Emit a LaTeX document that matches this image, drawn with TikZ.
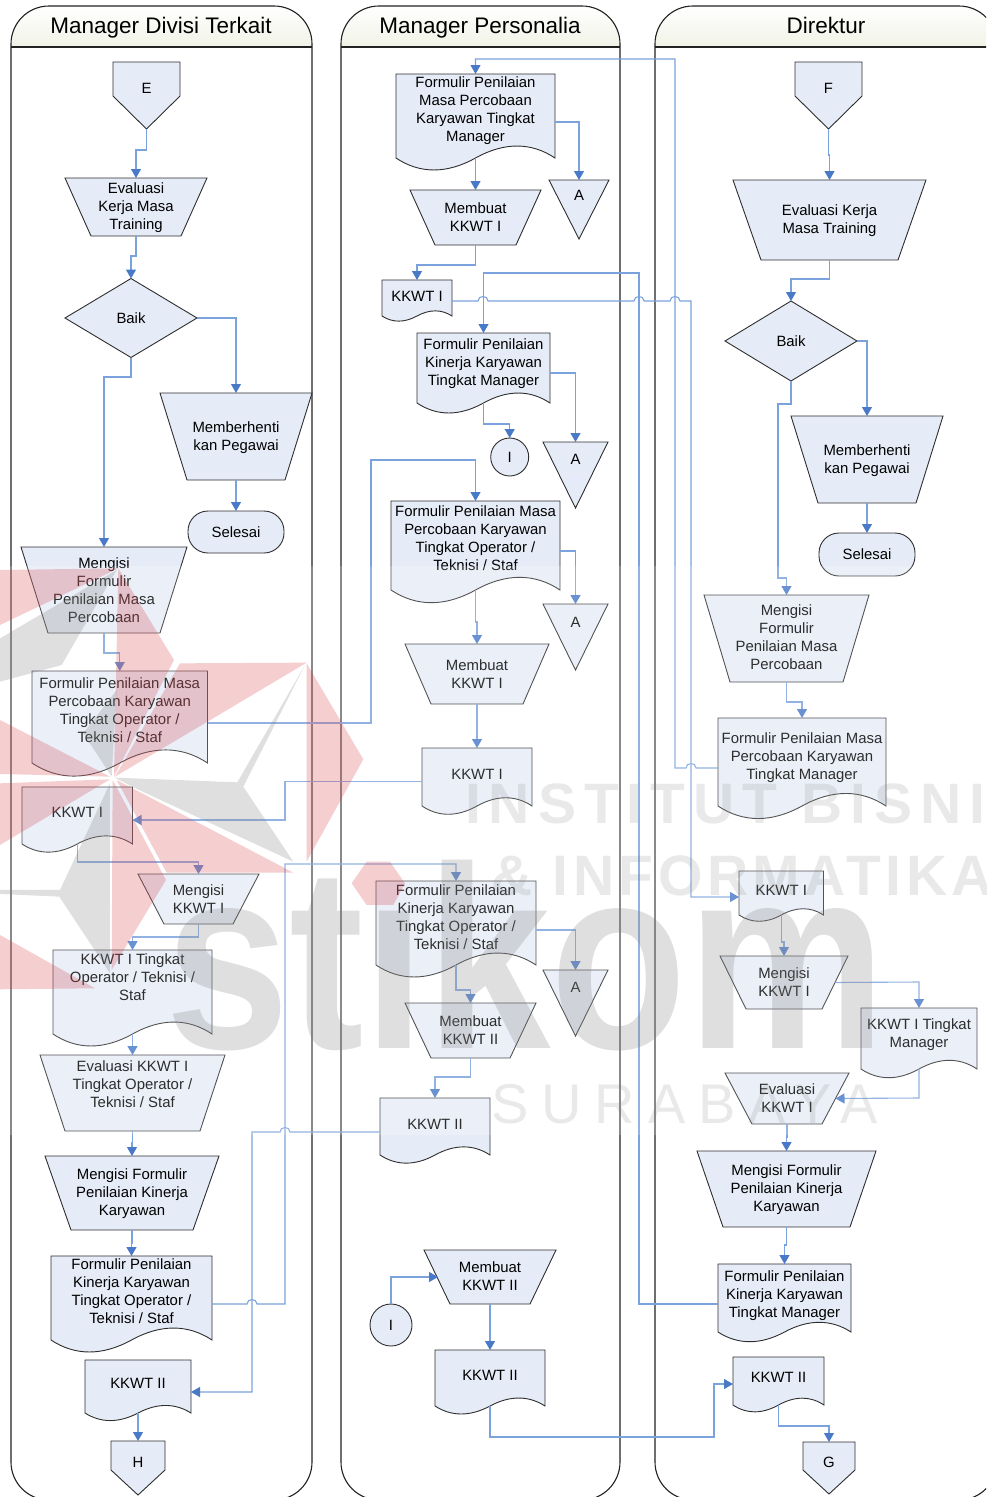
\documentclass[tikz,border=0pt]{standalone}
\usepackage{fontspec}
\setmainfont{Liberation Sans}
\usetikzlibrary{arrows.meta,shapes.geometric}
\definecolor{laneline}{HTML}{222222}
\definecolor{laneheader}{HTML}{F1F2E6}
\definecolor{shapeline}{HTML}{2E2E2E}
\definecolor{shapefill}{HTML}{E6ECF7}
\definecolor{flowblue}{HTML}{7AA2DC}
\definecolor{tipblue}{HTML}{4A7AC7}
\definecolor{wmred}{HTML}{D63C46}
\definecolor{wmgray}{HTML}{808080}
\tikzset{
  lanebox/.style={draw=laneline, line width=1.1pt},
  shapebox/.style={draw=shapeline, fill=shapefill, line width=0.9pt},
  boxref/.style={inner sep=0pt, outer sep=0pt, rectangle},
  lbl/.style={inner sep=0pt, align=center, yshift=-2.7pt, font=\fontsize{14.9}{18}\selectfont,
    execute at begin node=\strut, execute at end node=\strut},
  titlelbl/.style={inner sep=0pt, anchor=base, font=\fontsize{22.5}{26}\selectfont},
  flow/.style={draw=flowblue, line width=1.1pt, -{Triangle[length=9pt,width=10pt,color=tipblue]}},
  wmpoly/.style={fill=wmred, opacity=0.25},
  wmpolygray/.style={fill=wmgray, opacity=0.25},
}
% name, left, right, top, wave line, text y, text
\newcommand{\docbox}[7]{
  \pgfmathsetmacro{\bw}{#3-#2}
  \pgfmathsetmacro{\bh}{#5-#4}
  \pgfmathsetmacro{\wv}{0.19*\bh}
  \draw[shapebox] (#2,#4) -- (#3,#4) -- (#3,#5)
    .. controls (#3-0.15*\bw,#5-\wv) and (#3-0.32*\bw,#5-\wv) .. (#2+0.5*\bw,#5)
    .. controls (#2+0.32*\bw,#5+\wv) and (#2+0.15*\bw,#5+\wv) .. (#2,#5) -- cycle;
  \node[boxref, minimum width=\bw pt, minimum height=\bh pt] (#1) at (#2+0.5*\bw,#4+0.5*\bh) {};
  \node[lbl] (#1-text) at (#2+0.5*\bw,#6) {#7};
}
% name, left, right, top, bottom, inset, text y, text
\newcommand{\manual}[8]{
  \pgfmathsetmacro{\bw}{#3-#2}
  \pgfmathsetmacro{\bh}{#5-#4}
  \draw[shapebox] (#2,#4) -- (#3,#4) -- (#3-#6,#5) -- (#2+#6,#5) -- cycle;
  \node[boxref, minimum width=\bw pt, minimum height=\bh pt] (#1) at (#2+0.5*\bw,#4+0.5*\bh) {};
  \node[lbl] (#1-text) at (#2+0.5*\bw,#7) {#8};
}
% name, left, right, top, shoulder, tip, text y, text
\newcommand{\offpage}[8]{
  \pgfmathsetmacro{\bw}{#3-#2}
  \pgfmathsetmacro{\bh}{#6-#4}
  \draw[shapebox] (#2,#4) -- (#3,#4) -- (#3,#5) -- (#2+0.5*\bw,#6) -- (#2,#5) -- cycle;
  \node[boxref, minimum width=\bw pt, minimum height=\bh pt] (#1) at (#2+0.5*\bw,#4+0.5*\bh) {};
  \node[lbl] (#1-text) at (#2+0.5*\bw,#7) {#8};
}
% name, left, right, top, tip, text y
\newcommand{\storetri}[6]{
  \pgfmathsetmacro{\bw}{#3-#2}
  \pgfmathsetmacro{\bh}{#5-#4}
  \draw[shapebox] (#2,#4) -- (#3,#4) -- (#2+0.5*\bw,#5) -- cycle;
  \node[boxref, minimum width=\bw pt, minimum height=\bh pt] (#1) at (#2+0.5*\bw,#4+0.5*\bh) {};
  \node[lbl] (#1-text) at (#2+0.5*\bw,#6) {A};
}
% left, right
\newcommand{\lanehead}[2]{
  \shade[top color=white, bottom color=laneheader] (#1,47) [rounded corners=36pt] -- (#1,6) -- (#2,6) [sharp corners] -- (#2,47) -- cycle;
  \draw[lanebox, rounded corners=38pt] (#1,6) rectangle (#2,1500);
  \draw[lanebox] (#1,47) -- (#2,47);
}
\newcommand{\hop}[3]{-- (#1,#3) .. controls (#1,#3-6) and (#2,#3-6) .. (#2,#3)}
\begin{document}
\begin{tikzpicture}[x=1pt, y=-1pt]
  \useasboundingbox (0,0) rectangle (986,1497);
  \clip (0,0) rectangle (986,1497);
  \lanehead{11}{312}
  \lanehead{341}{620}
  \lanehead{655}{997}
  \node[titlelbl] (titleA) at (161,33.5) {Manager Divisi Terkait};
  \node[titlelbl] (titleB) at (480,33.5) {Manager Personalia};
  \node[titlelbl] (titleC) at (826,33.5) {Direktur};

  % Manager Divisi Terkait
  \offpage{offE}{113}{180}{62}{96}{129}{87}{E}
  \manual{evalA}{65}{207}{178}{236}{26}{206}{Evaluasi\\Kerja Masa\\Training}
  \node[shapebox, boxref, shape=diamond, aspect=1.67, minimum width=132pt, minimum height=79pt, font=\fontsize{14.9}{18}\selectfont] (baikA) at (131,318) {Baik};
  \manual{hentiA}{160}{312}{393}{480}{27}{436}{Memberhenti\\kan Pegawai}
  \node[shapebox, boxref, rounded corners=20pt, minimum width=96pt, minimum height=42pt, font=\fontsize{14.9}{18}\selectfont] (selesaiA) at (236,532) {Selesai};
  \manual{isiFormA}{21}{187}{547}{633}{27}{590}{Mengisi\\Formulir\\Penilaian Masa\\Percobaan}
  \docbox{formOpA}{32}{207.5}{671}{763}{710}{Formulir Penilaian Masa\\Percobaan Karyawan\\Tingkat Operator /\\Teknisi / Staf}
  \docbox{kkwtA}{22}{132.5}{787}{844}{811}{KKWT I}
  \manual{isiKkwtA}{138}{259}{874}{924}{26}{899}{Mengisi\\KKWT I}
  \docbox{kkwtOpA}{53}{212}{950}{1034}{977}{KKWT I Tingkat\\Operator / Teknisi /\\Staf}
  \manual{evalKkwtA}{40}{225}{1055}{1131}{25}{1084}{Evaluasi KKWT I\\Tingkat Operator /\\Teknisi / Staf}
  \manual{isiKinerjaA}{45}{219}{1156}{1230}{26}{1192}{Mengisi Formulir\\Penilaian Kinerja\\Karyawan}
  \docbox{kinerjaOpA}{51}{212}{1256}{1340}{1291}{Formulir Penilaian\\Kinerja Karyawan\\Tingkat Operator /\\Teknisi / Staf}
  \docbox{kkwtTwoA}{85}{191}{1360}{1413}{1382}{KKWT II}
  \offpage{offH}{111}{165}{1441}{1470}{1495}{1461}{H}

  % Manager Personalia
  \docbox{formManB}{396}{555}{74}{158}{109}{Formulir Penilaian\\Masa Percobaan\\Karyawan Tingkat\\Manager}
  \storetri{triA}{549}{609}{180}{239}{194}
  \manual{buatB}{410}{541}{190}{245}{25}{217}{Membuat\\KKWT I}
  \docbox{kkwtB}{382}{452}{280}{316}{295}{KKWT I}
  \docbox{kinerjaManB}{417}{550}{333}{403}{362}{Formulir Penilaian\\Kinerja Karyawan\\Tingkat Manager}
  \storetri{triB}{543}{608}{442}{508}{458}
  \node[shapebox, boxref, shape=circle, minimum size=38pt, font=\fontsize{14.9}{18}\selectfont] (connI) at (509.7,457) {I};
  \docbox{formOpB}{391}{560}{501}{590}{538}{Formulir Penilaian Masa\\Percobaan Karyawan\\Tingkat Operator /\\Teknisi / Staf}
  \storetri{triC}{543}{608}{604}{670}{621}
  \manual{buatTwoB}{405}{549}{644}{704}{26}{674}{Membuat\\KKWT I}
  \docbox{kkwtOpB}{422}{532}{748}{806}{773}{KKWT I}
  \docbox{kinerjaOpB}{376}{536}{881}{965}{917}{Formulir Penilaian\\Kinerja Karyawan\\Tingkat Operator /\\Teknisi / Staf}
  \storetri{triD}{543}{608}{970}{1036}{986}
  \manual{buatIIB}{405}{536}{1003}{1058}{26}{1030}{Membuat\\KKWT II}
  \docbox{kkwtIIB}{380}{490}{1098}{1155}{1123}{KKWT II}
  \node[shapebox, boxref, shape=circle, minimum size=42pt, font=\fontsize{14.9}{18}\selectfont] (connII) at (391,1325) {I};
  \manual{buatIIIB}{424}{556}{1250}{1304}{26}{1276}{Membuat\\KKWT II}
  \docbox{kkwtIIIB}{435}{545}{1350}{1406}{1374}{KKWT II}

  % Direktur
  \offpage{offF}{795}{862}{62}{96}{129}{87}{F}
  \manual{evalC}{733}{926}{180}{260}{28}{219}{Evaluasi Kerja\\Masa Training}
  \node[shapebox, boxref, shape=diamond, aspect=1.67, minimum width=132pt, minimum height=80pt, font=\fontsize{14.9}{18}\selectfont] (baikC) at (791,341) {Baik};
  \manual{hentiC}{791}{943}{416}{503}{27}{459}{Memberhenti\\kan Pegawai}
  \node[shapebox, boxref, rounded corners=20pt, minimum width=96pt, minimum height=43pt, font=\fontsize{14.9}{18}\selectfont] (selesaiC) at (867,554.5) {Selesai};
  \manual{isiFormC}{704}{869}{595}{682}{26}{637}{Mengisi\\Formulir\\Penilaian Masa\\Percobaan}
  \docbox{formManC}{718}{886}{718}{806}{756}{Formulir Penilaian Masa\\Percobaan Karyawan\\Tingkat Manager}
  \docbox{kkwtC}{739}{823.5}{871}{915}{889}{KKWT I}
  \manual{isiKkwtC}{720}{848}{956}{1009}{26}{982}{Mengisi\\KKWT I}
  \docbox{kkwtManC}{861}{977}{1008}{1069}{1033}{KKWT I Tingkat\\Manager}
  \manual{evalKkwtC}{725}{849}{1073}{1124}{27}{1098}{Evaluasi\\KKWT I}
  \manual{isiKinerjaC}{697}{876}{1151}{1227}{26}{1188}{Mengisi Formulir\\Penilaian Kinerja\\Karyawan}
  \docbox{kinerjaManC}{718}{851}{1264}{1332}{1294}{Formulir Penilaian\\Kinerja Karyawan\\Tingkat Manager}
  \docbox{kkwtIIC}{733}{824}{1357}{1405}{1376}{KKWT II}
  \offpage{offG}{803}{855}{1442}{1470}{1494}{1461}{G}

  % flow in first lane
  \draw[flow] (offE.south) -- (146.5,150) -- (136,150) -- (evalA.north);
  \draw[flow] (evalA.south) -- (136,256) -- (131,256) -- (baikA.north);
  \draw[flow] (baikA.east) -- (236,318) -- (hentiA.north);
  \draw[flow] (baikA.south) -- (131,377) -- (104,377) -- (isiFormA.north);
  \draw[flow] (hentiA.south) -- (selesaiA.north);
  \draw[flow] (isiFormA.south) -- (104,653) -- (119.75,653) -- (formOpA.north);
  \draw[flow] (formOpA.east |- 0,723) -- (371,723) -- (371,460) -- (475.5,460) -- (formOpB.north);
  \draw[flow] (kkwtOpB.west |- 0,781.5) -- (285,781.5) -- (285,820) -- (kkwtA.east |- 0,820);
  \draw[flow] (kkwtA.south) -- (77.25,862) -- (198.5,862) -- (isiKkwtA.north);
  \draw[flow] (isiKkwtA.south) -- (198.5,937) -- (132.5,937) -- (kkwtOpA.north);
  \draw[flow] (kkwtOpA.south) -- (evalKkwtA.north);
  \draw[flow] (evalKkwtA.south) -- (132.5,1143) -- (132,1143) -- (isiKinerjaA.north);
  \draw[flow] (isiKinerjaA.south) -- (132,1243) -- (131.5,1243) -- (kinerjaOpA.north);
  \draw[flow] (kinerjaOpA.east |- 0,1304) \hop{247}{257}{1304} -- (285,1304) -- (285,864) -- (456,864) -- (kinerjaOpB.north);
  \draw[flow] (kkwtIIB.west |- 0,1132) \hop{290}{280}{1132} -- (252,1132) -- (252,1392) -- (kkwtTwoA.east |- 0,1392);
  \draw[flow] (kkwtTwoA.south) -- (offH.north);

  % flow in second lane
  \draw[flow] (formManC.west |- 0,768) \hop{696}{686}{768} -- (675,768) -- (675,59) -- (475.5,59) -- (formManB.north);
  \draw[flow] (formManB.east |- 0,122) -- (579,122) -- (triA.north);
  \draw[flow] (formManB.south) -- (buatB.north);
  \draw[flow] (buatB.south) -- (475.5,265) -- (417,265) -- (kkwtB.north);
  \draw[flow] (kkwtB.east |- 0,301) \hop{478}{488}{301} \hop{634}{644}{301} \hop{670}{680}{301} -- (691,301) -- (691,897) -- (kkwtC.west |- 0,897);
  \draw[flow] (kinerjaManC.west |- 0,1304) -- (639,1304) -- (639,273) -- (483.5,273) -- (kinerjaManB.north);
  \draw[flow] (kinerjaManB.east |- 0,373) -- (575.5,373) -- (triB.north);
  \draw[flow] (kinerjaManB.south) -- (483.5,424) -- (509.7,424) -- (connI.north);
  \draw[flow] (formOpB.east |- 0,551) -- (575.5,551) -- (triC.north);
  \draw[flow] (formOpB.south) -- (475.5,622) -- (477,622) -- (buatTwoB.north);
  \draw[flow] (buatTwoB.south) -- (kkwtOpB.north);
  \draw[flow] (kinerjaOpB.east |- 0,930) -- (575.5,930) -- (triD.north);
  \draw[flow] (kinerjaOpB.south) -- (456,990) -- (470.5,990) -- (buatIIB.north);
  \draw[flow] (buatIIB.south) -- (470.5,1077) -- (435,1077) -- (kkwtIIB.north);
  \draw[flow] (connII.north) -- (391,1277) -- ([xshift=14pt]buatIIIB.west);
  \draw[flow] (buatIIIB.south) -- (kkwtIIIB.north);
  \draw[flow] (kkwtIIIB.south) -- (490,1437) -- (714,1437) -- (714,1384) -- (kkwtIIC.west |- 0,1384);

  % flow in third lane
  \draw[flow] (offF.south) -- (828.5,155) -- (829.5,155) -- (evalC.north);
  \draw[flow] (evalC.south) -- (829.5,279) -- (791,279) -- (baikC.north);
  \draw[flow] (baikC.east) -- (867,341) -- (hentiC.north);
  \draw[flow] (baikC.south) -- (791,404) -- (778,404) -- (778,578) -- (786.5,578) -- (isiFormC.north);
  \draw[flow] (hentiC.south) -- (selesaiC.north);
  \draw[flow] (isiFormC.south) -- (786.5,702) -- (802,702) -- (formManC.north);
  \draw[flow] (kkwtC.south) -- (781.25,942) -- (784,942) -- (isiKkwtC.north);
  \draw[flow] ([xshift=-13pt]isiKkwtC.east) -- (919,982) -- (kkwtManC.north);
  \draw[flow] (kkwtManC.south) -- (919,1098) -- ([xshift=-13.5pt]evalKkwtC.east);
  \draw[flow] (evalKkwtC.south) -- (787,1137) -- (786.5,1137) -- (isiKinerjaC.north);
  \draw[flow] (isiKinerjaC.south) -- (786.5,1245) -- (784.5,1245) -- (kinerjaManC.north);
  \draw[flow] (kkwtIIC.south) -- (778.5,1426) -- (829,1426) -- (offG.north);

  % logo on top of everything
  \fill[white, opacity=0.18] (0,566) rectangle (986,1135);
  \begin{scope}[yshift=-550pt, x=0.3333pt, y=-0.3333pt]
    \fill[wmpoly] (355,55) -- (522,330) -- (342,680) -- cycle;
    \fill[wmpoly] (0,60) -- (355,55) -- (0,225) -- cycle;
    \fill[wmpoly] (0,510) -- (330,680) -- (0,672) -- cycle;
    \fill[wmpoly] (0,700) -- (330,688) -- (0,885) -- cycle;
    \fill[wmpoly] (0,1155) -- (285,1315) -- (0,1318) -- cycle;
    \fill[wmpoly] (338,690) -- (498,990) -- (335,1260) -- cycle;
    \fill[wmpoly] (350,690) -- (880,968) -- (500,968) -- cycle;
    \fill[wmpoly] (540,340) -- (920,338) -- (345,680) -- cycle;
    \fill[wmpoly] (920,340) -- (1090,628) -- (920,935) -- cycle;
    \fill[wmpoly] (1055,1000) -- (1100,935) -- (1170,935) -- (1215,1000) -- (1180,1065) -- (1100,1065) -- cycle;
    \fill[wmpolygray] (0,265) -- (350,60) -- (185,345) -- (0,395) -- cycle;
    \fill[wmpolygray] (250,550) -- (335,680) -- (350,420) -- cycle;
    \fill[wmpolygray] (330,700) -- (180,1020) -- (0,1020) -- (0,1032) -- (178,1040) -- (330,1270) -- cycle;
    \fill[wmpolygray] (345,683) -- (712,697) -- (915,345) -- (730,710) -- (880,935) -- (400,712) -- cycle;
  \end{scope}
  \node[inner sep=0pt, anchor=base west, transform shape, xscale=0.86, text=wmgray, text opacity=0.25, font=\fontsize{260}{260}\selectfont\bfseries] (wmlogo) at (165,1048) {st\i kom};
  \node[inner sep=0pt, anchor=base west, text=wmgray, text opacity=0.17, font=\fontsize{57}{60}\selectfont\bfseries\addfontfeature{LetterSpace=14}] (wmlineA) at (465,823) {INSTITUT BISNIS};
  \node[inner sep=0pt, anchor=base west, text=wmgray, text opacity=0.17, font=\fontsize{57}{60}\selectfont\bfseries\addfontfeature{LetterSpace=8}] (wmlineB) at (491,895) {\& INFORMATIKA};
  \node[inner sep=0pt, anchor=base west, text=wmgray, text opacity=0.17, font=\fontsize{56}{60}\selectfont\addfontfeature{LetterSpace=23}] (wmlineC) at (491,1123) {SURABAYA};
\end{tikzpicture}
\end{document}
